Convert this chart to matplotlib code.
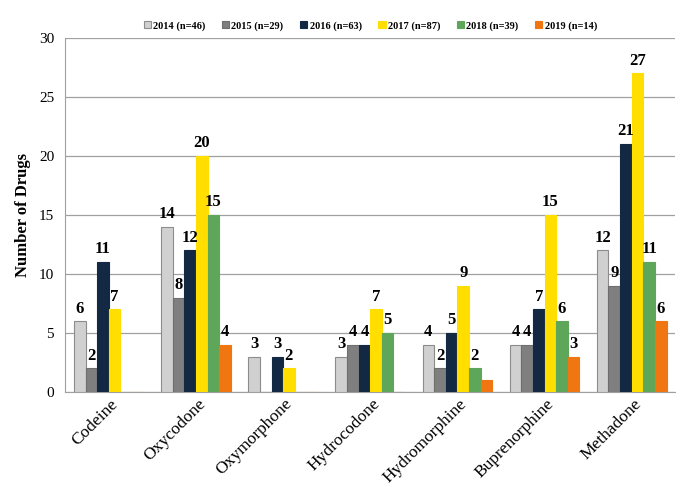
import numpy as np
import matplotlib.pyplot as plt

plt.rcParams['font.family'] = ['Liberation Serif', 'DejaVu Serif']

drugs = ["Codeine", "Oxycodone", "Oxymorphone", "Hydrocodone",
         "Hydromorphine", "Buprenorphine", "Methadone"]
years = ["2014 (n=46)", "2015 (n=29)", "2016 (n=63)", "2017 (n=87)",
         "2018 (n=39)", "2019 (n=14)"]
v2014 = [6, 14, 3, 3, 4, 4, 12]
v2015 = [2, 8, 0, 4, 2, 4, 9]
v2016 = [11, 12, 3, 4, 5, 7, 21]
v2017 = [7, 20, 2, 7, 9, 15, 27]
v2018 = [0, 15, 0, 5, 2, 6, 11]
v2019 = [0, 4, 0, 0, 1, 3, 6]
series = [v2014, v2015, v2016, v2017, v2018, v2019]

colors = ["#D0D0D0", "#7F7F7F", "#132843", "#FFDE00", "#5EA75A", "#F07612"]
edges = ["#8C8C8C", "#6E6E6E", "#132843", "#FFDE00", "#5EA75A", "#F07612"]

fig = plt.figure(figsize=(6.8, 4.87), dpi=100)
ax = fig.add_axes([0.096, 0.195, 0.897, 0.727])

x = np.arange(len(drugs))
w = 0.8 / 6
for i, vals in enumerate(series):
    pos = x - 0.4 + w * (i + 0.5)
    bars = ax.bar(pos, vals, w, color=colors[i], edgecolor=edges[i],
                  linewidth=0.8, label=years[i], zorder=3)
    for b, v in zip(bars, vals):
        if v > 1:
            ax.text(b.get_x() + b.get_width() / 2, v + 0.4, str(v),
                    ha='center', va='bottom', fontsize=12,
                    fontweight='bold', zorder=4)

ax.set_xlim(-0.5, len(drugs) - 0.5)
ax.set_ylim(0, 30)
ax.set_yticks(range(0, 31, 5))
ax.tick_params(axis='y', length=0, labelsize=11, pad=8)
ax.tick_params(axis='x', length=0, labelsize=12.5, pad=7)
ax.grid(axis='y', color='#A0A0A0', linewidth=0.9, zorder=0)

ax.set_xticks(x + 0.08)
ax.set_xticklabels(drugs, rotation=45, ha='right', va='center',
                   rotation_mode='anchor')

for s in ['top', 'right']:
    ax.spines[s].set_visible(False)
ax.spines['left'].set_color('#A0A0A0')
ax.spines['bottom'].set_color('#A0A0A0')

ax.set_ylabel("Number of Drugs", fontsize=12, fontweight='bold', labelpad=6)

ax.legend(loc='lower center', bbox_to_anchor=(0.5, 1.0), ncol=6,
          frameon=False, prop={'size': 7.5, 'weight': 'bold'},
          handlelength=0.7, handleheight=0.7, handletextpad=0.2,
          columnspacing=1.6, borderaxespad=0.3)

fig.savefig("out.png", dpi=100)
